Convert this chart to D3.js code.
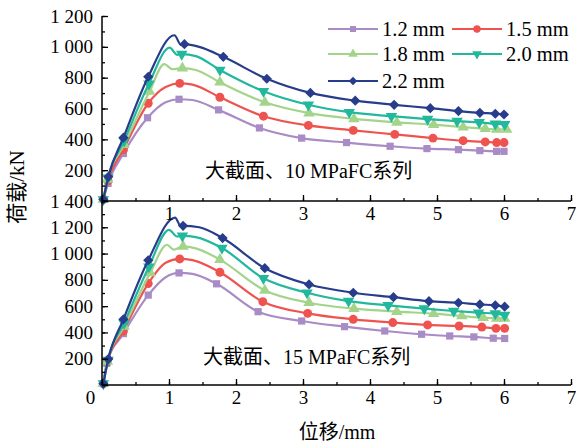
<!DOCTYPE html>
<html><head><meta charset="utf-8">
<script src="https://cdn.jsdelivr.net/npm/d3@7"></script>
<style>body{margin:0;background:#fff}svg{display:block}</style>
</head><body><svg id="c" width="576" height="448"></svg>
<script>
// ---- data ----
const seriesNames = ["1.2 mm","1.5 mm","1.8 mm","2.0 mm","2.2 mm"];
const seriesColors = ["#a98bc5","#ef5350","#a3d48a","#21b89c","#283c8c"];
const xTicks = [0,1,2,3,4,5,6,7];
const yTicksTop = [0,200,400,600,800,1000,1200];
const yTicksBottom = [0,200,400,600,800,1000,1200,1400];
const panelTitles = ["大截面、10 MPaFC系列","大截面、15 MPaFC系列"];
const xTitle = "位移/mm";
const yTitle = "荷载/kN";

// [displacement, load, marker(1/0)]
const top12 = [[0.02,10,1],[0.09,114,1],[0.32,308,1],[0.68,540,1],[0.95,640,0],[1.15,660,1],[1.35,655,0],[1.74,591,1],[2.35,474,1],[2.98,408,1],[3.65,379,1],[4.30,355,1],[4.85,340,1],[5.32,333,1],[5.64,327,1],[5.89,322,1],[6.0,322,1]];
const top15 = [[0.02,10,1],[0.09,130,1],[0.32,333,1],[0.69,634,1],[0.95,740,0],[1.16,763,1],[1.35,755,0],[1.76,673,1],[2.41,550,1],[3.08,490,1],[3.75,458,1],[4.37,432,1],[4.94,408,1],[5.39,391,1],[5.72,383,1],[5.89,379,1],[6.0,379,1]];
const top18 = [[0.02,10,1],[0.08,140,1],[0.33,365,1],[0.71,710,1],[0.93,888,0],[1.05,855,0],[1.20,862,1],[1.40,850,0],[1.76,770,1],[2.43,640,1],[3.09,570,1],[3.76,533,1],[4.40,510,1],[4.95,495,1],[5.39,479,1],[5.72,469,1],[5.89,464,1],[6.04,464,1]];
const top20 = [[0.02,10,1],[0.09,150,1],[0.33,390,1],[0.70,760,1],[1.01,995,0],[1.12,948,0],[1.19,953,1],[1.40,940,0],[1.76,850,1],[2.41,712,1],[3.08,624,1],[3.69,576,1],[4.32,550,1],[4.86,531,1],[5.30,518,1],[5.63,510,1],[5.87,501,1],[6.01,497,1]];
const top22 = [[0.02,10,1],[0.094,157,1],[0.32,411,1],[0.69,806,1],[1.08,1075,0],[1.18,1012,0],[1.23,1017,1],[1.45,1000,0],[1.81,935,1],[2.46,793,1],[3.11,701,1],[3.78,651,1],[4.36,624,1],[4.90,602,1],[5.32,583,1],[5.64,572,1],[5.87,566,1],[6.0,561,1]];

const bot12 = [[0.02,10,1],[0.07,165,1],[0.32,391,1],[0.69,684,1],[0.95,820,0],[1.15,853,1],[1.35,845,0],[1.71,770,1],[2.33,558,1],[2.98,487,1],[3.62,444,1],[4.22,411,1],[4.77,386,1],[5.19,373,1],[5.55,366,1],[5.84,356,1],[6.01,354,1]];
const bot15 = [[0.02,10,1],[0.08,175,1],[0.32,411,1],[0.69,772,1],[0.95,930,0],[1.16,959,1],[1.35,950,0],[1.76,858,1],[2.40,634,1],[3.07,545,1],[3.75,500,1],[4.34,475,1],[4.86,457,1],[5.33,449,1],[5.67,441,1],[5.88,431,1],[6.01,431,1]];
const bot18 = [[0.02,10,1],[0.08,180,1],[0.33,445,1],[0.72,853,1],[0.97,1067,0],[1.07,1030,0],[1.21,1055,1],[1.40,1040,0],[1.76,954,1],[2.43,719,1],[3.09,626,1],[3.76,581,1],[4.40,558,1],[4.95,543,1],[5.37,525,1],[5.69,512,1],[5.89,507,1],[6.01,507,1]];
const bot20 = [[0.02,10,1],[0.09,190,1],[0.33,470,1],[0.70,900,1],[1.00,1181,0],[1.12,1130,0],[1.20,1135,1],[1.40,1125,0],[1.79,1042,1],[2.41,812,1],[3.06,702,1],[3.68,638,1],[4.27,606,1],[4.81,581,1],[5.25,563,1],[5.62,550,1],[5.87,543,1],[6.01,532,1]];
const bot22 = [[0.02,10,1],[0.094,197,1],[0.32,500,1],[0.69,949,1],[1.09,1274,0],[1.18,1205,0],[1.21,1211,1],[1.45,1200,0],[1.80,1118,1],[2.43,889,1],[3.09,765,1],[3.75,702,1],[4.35,668,1],[4.88,638,1],[5.32,626,1],[5.64,613,1],[5.87,606,1],[6.01,596,1]];

const topSeries = [top12, top15, top18, top20, top22];
const bottomSeries = [bot12, bot15, bot18, bot20, bot22];

// ---- drawing ----
const svg = d3.select("#c");
const FONT = "'Liberation Serif','Times New Roman','Noto Sans CJK SC',serif";
const x = d3.scaleLinear().domain([0,7]).range([102,571]);
const yTop = d3.scaleLinear().domain([0,1200]).range([201,16]);
const yBot = d3.scaleLinear().domain([0,1400]).range([385,201]);

const fmt = d => d >= 1000 ? Math.floor(d/1000) + " " + String(d%1000).padStart(3,"0") : String(d);

function markerPath(i, size) {
  if (i === 0) return d3.symbol().type(d3.symbolSquare).size(size)();
  if (i === 1) return d3.symbol().type(d3.symbolCircle).size(size*1.2)();
  if (i === 2) return d3.symbol().type(d3.symbolTriangle).size(size*1.1)();
  if (i === 3) return d3.symbol().type(d3.symbolTriangle).size(size*1.1)();
  return d3.symbol().type(d3.symbolSquare).size(size)();
}
function markerRot(i) { return i === 3 ? 180 : (i === 4 ? 45 : 0); }

function drawPanel(series, y, yTicks) {
  const line = d3.line().x(d => x(d[0])).y(d => y(d[1])).curve(d3.curveMonotoneX);
  series.forEach((data, i) => {
    const g = svg.append("g");
    g.append("path").datum(data).attr("d", line)
      .attr("fill","none").attr("stroke", seriesColors[i]).attr("stroke-width", 2.2)
      .attr("stroke-linejoin","round");
    g.selectAll("path.m").data(data.filter(d => d[2] === 1)).join("path")
      .attr("class","m")
      .attr("d", markerPath(i, 52))
      .attr("transform", d => `translate(${x(d[0])},${y(d[1])}) rotate(${markerRot(i)})`)
      .attr("fill", seriesColors[i]);
  });
  const yMinor = d3.range(0, y.domain()[1] + 1, 100);
  const ya = svg.append("g").attr("transform","translate(102,0)");
  ya.call(d3.axisRight(y).tickValues(yMinor).tickSize(3).tickFormat(""));
  ya.select(".domain").remove();
  const yb = svg.append("g").attr("transform","translate(102,0)");
  yb.call(d3.axisRight(y).tickValues(yTicks).tickSize(6).tickFormat(""));
  yb.select(".domain").remove();
  const yl = svg.append("g").attr("transform","translate(102,0)");
  yl.call(d3.axisLeft(y).tickValues(yTicks.filter(v => v > 0)).tickSize(0).tickPadding(9).tickFormat(fmt));
  yl.select(".domain").remove();
  yl.selectAll("text").attr("font-family", FONT).attr("font-size", 19).attr("fill","#000");
  svg.selectAll("g .tick line").attr("stroke","#000").attr("stroke-width",1.3);
}

drawPanel(topSeries, yTop, yTicksTop);
drawPanel(bottomSeries, yBot, yTicksBottom);

function xAxis(yPos, showZero) {
  const minor = d3.range(0, 7.01, 0.5);
  const g1 = svg.append("g").attr("transform",`translate(0,${yPos})`);
  g1.call(d3.axisTop(x).tickValues(minor).tickSize(3).tickFormat(""));
  g1.select(".domain").remove();
  const g2 = svg.append("g").attr("transform",`translate(0,${yPos})`);
  g2.call(d3.axisTop(x).tickValues(xTicks).tickSize(6).tickFormat(""));
  g2.select(".domain").attr("stroke","#000").attr("stroke-width",1.5).attr("d",`M${x(0)},0H${x(7)}`);
  svg.selectAll("g .tick line").attr("stroke","#000").attr("stroke-width",1.3);
  const g3 = svg.append("g").attr("transform",`translate(0,${yPos})`);
  g3.call(d3.axisBottom(x).tickValues(showZero ? xTicks : xTicks.slice(1)).tickSize(0).tickPadding(6).tickFormat(d3.format("d")));
  g3.select(".domain").remove();
  g3.selectAll("text").attr("font-family", FONT).attr("font-size", 19).attr("fill","#000")
    .attr("dx", d => d === 0 ? -12 : 0);
}
xAxis(201, false);
xAxis(385, true);

svg.append("line").attr("x1",102).attr("x2",102).attr("y1",yTop(1200)).attr("y2",yBot(0))
  .attr("stroke","#000").attr("stroke-width",1.5);

svg.append("text").attr("x",205).attr("y",178).text(panelTitles[0])
  .attr("font-family",FONT).attr("font-size",20);
svg.append("text").attr("x",203).attr("y",364).text(panelTitles[1])
  .attr("font-family",FONT).attr("font-size",20);

svg.append("text").attr("x",337).attr("y",439).attr("text-anchor","middle").text(xTitle)
  .attr("font-family",FONT).attr("font-size",20);
svg.append("text").attr("transform","translate(24,187) rotate(-90)").attr("text-anchor","middle").text(yTitle)
  .attr("font-family",FONT).attr("font-size",21);

const legPos = [[328,29],[452,29],[328,54],[452,54],[328,81]];
seriesNames.forEach((name, i) => {
  const [lx, ly] = legPos[i];
  const g = svg.append("g");
  g.append("line").attr("x1",lx).attr("x2",lx+50).attr("y1",ly).attr("y2",ly)
    .attr("stroke",seriesColors[i]).attr("stroke-width",2.2);
  g.append("path").attr("d", markerPath(i, 36))
    .attr("transform",`translate(${lx+25},${ly}) rotate(${markerRot(i)})`).attr("fill",seriesColors[i]);
  g.append("text").attr("x",lx+54).attr("y",ly).attr("dy","0.35em").text(name)
    .attr("font-family",FONT).attr("font-size",20.5);
});
</script></body></html>
